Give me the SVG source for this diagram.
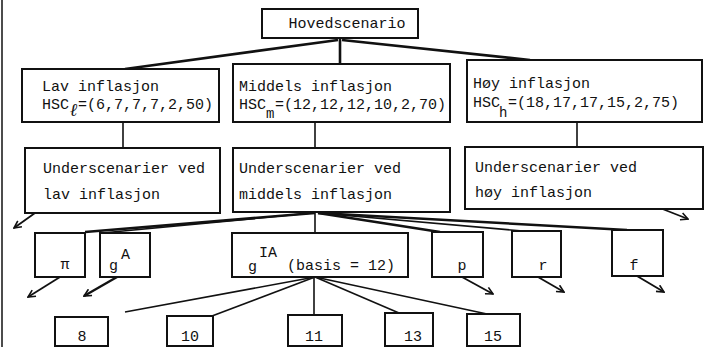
<svg xmlns="http://www.w3.org/2000/svg" width="712" height="347" viewBox="0 0 712 347">
<style>
.bx{fill:#fff;stroke:#111;stroke-width:2}
.t{font-family:"Liberation Mono","DejaVu Sans Mono",monospace;font-size:15px;fill:#111}
.sm{font-size:14px}
.c{fill:none;stroke:#111;stroke-width:1.6}
.ct{fill:none;stroke:#111;stroke-width:2.6}
.ar{fill:none;stroke:#111;stroke-width:1.8;marker-end:url(#arr)}
</style>
<defs>
<marker id="arr" viewBox="0 0 10 10" refX="9" refY="5" markerWidth="9" markerHeight="9" orient="auto" markerUnits="userSpaceOnUse">
<path d="M1,1 L9,5 L1,9" fill="none" stroke="#111" stroke-width="1.8"/>
</marker>
</defs>
<rect width="712" height="347" fill="#fff"/>
<line x1="2" y1="0" x2="2" y2="347" stroke="#111" stroke-width="1.5"/>
<g id="connectors">
<path class="ct" d="M340,38 L340,64"/>
<path class="ct" d="M338,40 L125,69"/>
<path class="ct" d="M342,40 L530,60"/>
<path class="c" d="M123,122 L123,148"/>
<path class="c" d="M315,122 L315,148"/>
<path class="c" d="M577,122 L577,147"/>
<path class="ar" d="M35,213 L14,228"/>
<path class="ar" d="M660,208 L688,219"/>
<path class="ct" d="M315,213 L85,232"/>
<path class="c" d="M312,213 L102,233"/>
<path class="c" d="M315,213 L315,233"/>
<path class="ct" d="M318,213 L440,232"/>
<path class="c" d="M318,213 L523,231"/>
<path class="ct" d="M318,213 L627,230"/>
<path class="ar" d="M60,277 L28,297"/>
<path class="ar" style="stroke-width:2.4" d="M117,277 L84,296"/>
<path class="ar" d="M462,277 L493,294"/>
<path class="ar" d="M538,277 L564,292"/>
<path class="ar" d="M637,276 L664,292"/>
<path class="c" d="M315,277 L125,312"/>
<path class="c" d="M315,277 L212,316"/>
<path class="c" d="M314,277 L314,315"/>
<path class="c" d="M315,277 L399,313"/>
<path class="c" d="M315,277 L487,314"/>
</g>
<g id="hovedscenario">
<rect class="bx" x="262" y="9" width="156" height="29"/>
<text class="t" x="347" y="28" text-anchor="middle">Hovedscenario</text>
</g>
<g id="lav">
<rect class="bx" x="22" y="69" width="197" height="53"/>
<text class="t" x="42" y="91">Lav inflasjon</text>
<text class="t" x="42" y="109">HSC</text>
<text x="70" y="116" style="font-family:'Liberation Serif',serif;font-style:italic;font-size:18px;font-weight:bold;fill:#111">ℓ</text>
<text class="t" x="78" y="109">=(6,7,7,7,2,50)</text>
</g>
<g id="middels">
<rect class="bx" x="233" y="64" width="217" height="58"/>
<text class="t" x="239" y="91">Middels inflasjon</text>
<text class="t" x="239" y="109">HSC</text>
<text class="t sm" x="266" y="118">m</text>
<text class="t" x="275" y="109">=(12,12,12,10,2,70)</text>
</g>
<g id="hoy">
<rect class="bx" x="467" y="60" width="235" height="62"/>
<text class="t" x="473" y="88">Høy inflasjon</text>
<text class="t" x="473" y="107">HSC</text>
<text class="t sm" x="499" y="117">h</text>
<text class="t" x="508" y="107">=(18,17,17,15,2,75)</text>
</g>
<g id="under-lav">
<rect class="bx" x="25" y="148" width="195" height="65"/>
<text class="t" x="43" y="173">Underscenarier ved</text>
<text class="t" x="43" y="199">lav inflasjon</text>
</g>
<g id="under-middels">
<rect class="bx" x="233" y="148" width="217" height="64"/>
<text class="t" x="239" y="173">Underscenarier ved</text>
<text class="t" x="239" y="199">middels inflasjon</text>
</g>
<g id="under-hoy">
<rect class="bx" x="465" y="147" width="238" height="62"/>
<text class="t" x="475" y="172">Underscenarier ved</text>
<text class="t" x="475" y="197">høy inflasjon</text>
</g>
<g id="pi">
<rect class="bx" x="35" y="233" width="50" height="44"/>
<text class="t" x="65" y="269" text-anchor="middle">π</text>
</g>
<g id="gA">
<rect class="bx" x="100" y="233" width="50" height="44"/>
<text class="t" x="109" y="270">g</text>
<text class="t" x="121" y="259">A</text>
</g>
<g id="gIA">
<rect class="bx" x="232" y="233" width="176" height="44"/>
<text class="t" x="248" y="271">g</text>
<text class="t" x="259" y="257">IA</text>
<text class="t" x="287" y="270">(basis = 12)</text>
</g>
<g id="p">
<rect class="bx" x="432" y="232" width="51" height="45"/>
<text class="t" x="462" y="270" text-anchor="middle">p</text>
</g>
<g id="r">
<rect class="bx" x="512" y="231" width="49" height="46"/>
<text class="t" x="543" y="270" text-anchor="middle">r</text>
</g>
<g id="f">
<rect class="bx" x="612" y="230" width="51" height="46"/>
<text class="t" x="634" y="270" text-anchor="middle">f</text>
</g>
<g id="v8">
<rect class="bx" x="55" y="317" width="53" height="29"/>
<text class="t" x="82" y="341" text-anchor="middle">8</text>
</g>
<g id="v10">
<rect class="bx" x="167" y="316" width="46" height="30"/>
<text class="t" x="190" y="341" text-anchor="middle">10</text>
</g>
<g id="v11">
<rect class="bx" x="288" y="315" width="54" height="31"/>
<text class="t" x="314" y="341" text-anchor="middle">11</text>
</g>
<g id="v13">
<rect class="bx" x="385" y="313" width="48" height="33"/>
<text class="t" x="413" y="341" text-anchor="middle">13</text>
</g>
<g id="v15">
<rect class="bx" x="467" y="314" width="53" height="32"/>
<text class="t" x="493" y="341" text-anchor="middle">15</text>
</g>
</svg>
